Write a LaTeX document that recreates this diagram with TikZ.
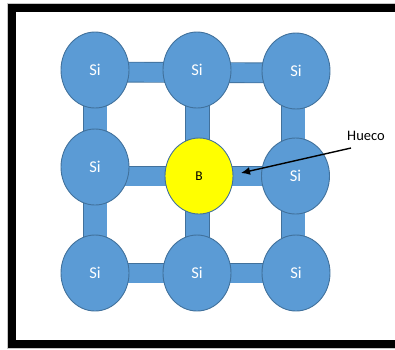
\documentclass[tikz,border=0pt]{standalone}
\usepackage{fontspec}
\setmainfont{Carlito}
\usetikzlibrary{arrows.meta}
\definecolor{atomblue}{HTML}{5B9BD5}
\definecolor{atomedge}{HTML}{41719C}
\definecolor{boron}{HTML}{FFFF00}
\tikzset{
  atom/.style={ellipse, minimum width=68pt, minimum height=76pt, inner sep=0pt,
    fill=atomblue, draw=atomedge, line width=0.9pt},
  siatom/.style={atom, text=white, font=\fontsize{16.5}{18}\selectfont},
  batom/.style={atom, fill=boron, text=black, font=\fontsize{13.5}{15}\selectfont},
  hbond/.style={draw=atomedge, line width=0.9pt, double=atomblue, double distance=19pt},
  vbond/.style={draw=atomedge, line width=0.9pt, double=atomblue, double distance=23pt},
  pointer/.style={-{Latex[length=9pt,width=8pt]}, line width=1.4pt, black},
  label/.style={font=\fontsize{14.5}{16}\selectfont, inner sep=0pt}
}
\usetikzlibrary{shapes.geometric}
\begin{document}
\begin{tikzpicture}[x=1pt, y=-1pt]
  \useasboundingbox (0,0) rectangle (395,349);
  % frame with a faint grey rim
  \draw[gray!45, line width=1pt] (420,3.5) -- (7.5,3.5) -- (7.5,348.5) -- (420,348.5);
  \draw[black, line width=8pt] (420,8) -- (12,8) -- (12,344) -- (420,344);

  % lattice positions
  \coordinate (ptl) at (95,70);
  \coordinate (ptm) at (197,70);
  \coordinate (ptr) at (296,71);
  \coordinate (pml) at (95,167);
  \coordinate (pB)  at (199,176);
  \coordinate (pmr) at (295.5,176);
  \coordinate (pbl) at (95,273);
  \coordinate (pbm) at (197,273);
  \coordinate (pbr) at (296,273);

  % bonds
  \draw[vbond] (ptl) -- (pbl);
  \draw[vbond] ([xshift=0.5pt]ptm) -- ([xshift=0.5pt]pbm);
  \draw[vbond] ([xshift=-3pt]ptr) -- ([xshift=-3pt]pbr);
  \draw[hbond] ([yshift=-2pt]ptl) -- ([yshift=-2pt]ptr);
  \draw[hbond] (pml |- pB) -- (pmr);
  \draw[hbond] (pbl) -- (pbr);

  % atoms
  \node[siatom] (tl) at (ptl) {Si};
  \node[siatom] (tm) at (ptm) {Si};
  \node[siatom] (tr) at (ptr) {Si};
  \node[siatom] (ml) at (pml) {Si};
  \node[batom]  (B)  at (pB)  {B};
  \node[siatom] (mr) at (pmr) {Si};
  \node[siatom] (bl) at (pbl) {Si};
  \node[siatom] (bm) at (pbm) {Si};
  \node[siatom] (br) at (pbr) {Si};

  % hole marker
  \node[label] (hueco) at (366,136) {Hueco};
  \coordinate (tail) at (351,148);
  \coordinate (tip) at (241,173);
  \draw[pointer] (tail) -- (tip);
\end{tikzpicture}
\end{document}
